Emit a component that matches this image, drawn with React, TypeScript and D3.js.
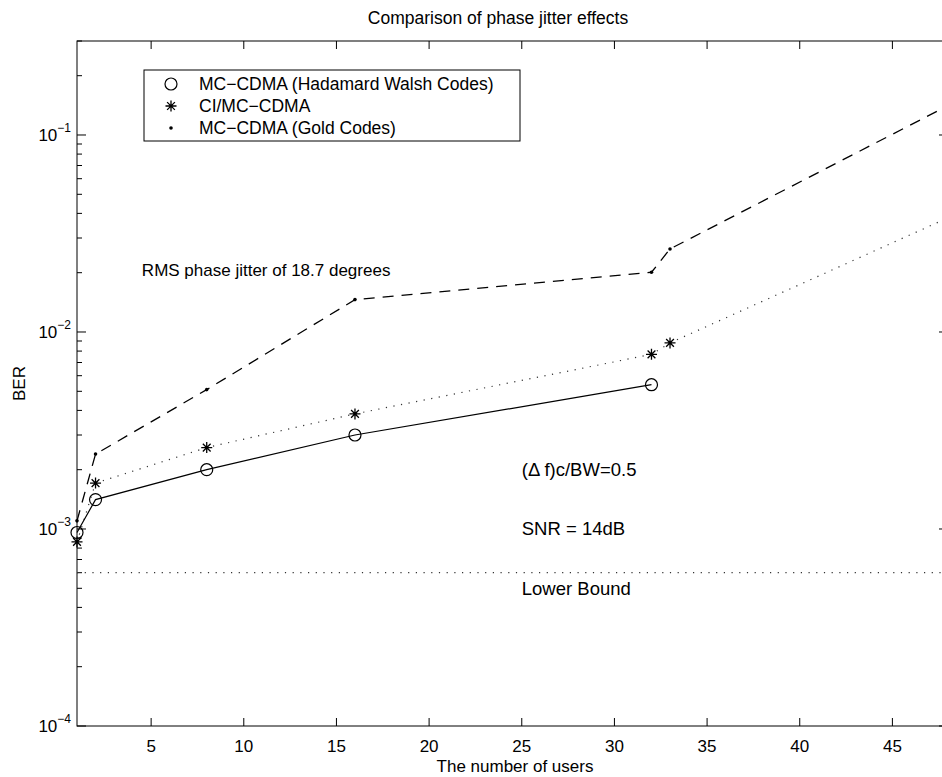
import React from 'react';
import * as d3 from 'd3';

// ---- data ----
const hadamardUsers = [1, 2, 8, 16, 32];
const hadamardBER = [0.00096, 0.00141, 0.002, 0.003, 0.0054];
const ciUsers = [1, 2, 8, 16, 32, 33, 48];
const ciBER = [0.00086, 0.00171, 0.00259, 0.00384, 0.0077, 0.0088, 0.038];
const goldUsers = [1, 2, 8, 16, 32, 33, 48];
const goldBER = [0.0011, 0.0024, 0.0051, 0.0146, 0.0201, 0.0264, 0.141];
const lowerBoundUsers = [1, 48];
const lowerBoundBER = [0.0006, 0.0006];
const xTickValues = [5, 10, 15, 20, 25, 30, 35, 40, 45];
const yMajorTicks = [1e-4, 1e-3, 1e-2, 1e-1];
const yTickExponents = ['−4', '−3', '−2', '−1'];
const legendLabels = ['MC−CDMA (Hadamard Walsh Codes)', 'CI/MC−CDMA', 'MC−CDMA (Gold Codes)'];
const annotationTexts = ['RMS phase jitter of 18.7 degrees', '(Δ f)c/BW=0.5', 'SNR = 14dB', 'Lower Bound'];
const annotationX = [4.5, 25, 25, 25];
const annotationY = [0.0205, 0.002, 0.001, 0.0005];

const W = 942;
const H = 777;
const L = 77, R = 948, T = 41, B = 726;
const FONT = '"Liberation Sans", Arial, Helvetica, sans-serif';

export default function App() {
  const x = d3.scaleLinear().domain([1, 48]).range([L, R]);
  const y = d3.scaleLog().domain([1e-4, 0.3]).range([B, T]);

  const line = d3.line<[number, number]>().x(d => x(d[0])).y(d => y(d[1]));
  const zip = (a: number[], b: number[]) => a.map((v, i) => [v, b[i]] as [number, number]);

  const minorTicks: number[] = [];
  for (let e = -4; e <= -1; e++) {
    for (let m = 2; m <= 9; m++) {
      const v = m * Math.pow(10, e);
      if (v <= 0.3 + 1e-12) minorTicks.push(v);
    }
  }

  const asterisk = (cx: number, cy: number, r: number) => {
    const p = d3.path();
    for (let k = 0; k < 4; k++) {
      const a = (k * Math.PI) / 4;
      p.moveTo(cx - r * Math.cos(a), cy - r * Math.sin(a));
      p.lineTo(cx + r * Math.cos(a), cy + r * Math.sin(a));
    }
    return p.toString();
  };

  const legX = 144, legY = 70, legW = 376, legH = 71;
  const legRows = [84, 106, 128];
  const annSizes = [17, 18.5, 18.5, 18.5];

  return (
    <svg width={W} height={H} style={{ position: 'absolute', left: 0, top: 0, background: '#fff' }} fontFamily={FONT}>
      <rect x={0} y={0} width={W} height={H} fill="#fff" />
      {/* title */}
      <text x={498} y={24} textAnchor="middle" fontSize={17.5}>Comparison of phase jitter effects</text>

      {/* axes box */}
      <rect x={L} y={T} width={R - L} height={B - T} fill="none" stroke="#000" strokeWidth={1} />

      {/* x ticks */}
      {xTickValues.map(v => (
        <g key={'xt' + v}>
          <line x1={x(v)} x2={x(v)} y1={B} y2={B - 8} stroke="#000" />
          <line x1={x(v)} x2={x(v)} y1={T} y2={T + 8} stroke="#000" />
          <text x={x(v)} y={B + 26} textAnchor="middle" fontSize={17}>{v}</text>
        </g>
      ))}

      {/* y ticks */}
      {yMajorTicks.map((v, i) => (
        <g key={'yt' + v}>
          <line x1={L} x2={L + 9} y1={y(v)} y2={y(v)} stroke="#000" />
          <line x1={R} x2={R - 9} y1={y(v)} y2={y(v)} stroke="#000" />
          <text x={71} y={y(v) + 6} textAnchor="end" fontSize={17}>
            10<tspan dy={-9} fontSize={12}>{yTickExponents[i]}</tspan>
          </text>
        </g>
      ))}
      {minorTicks.map(v => (
        <g key={'ym' + v}>
          <line x1={L} x2={L + 5} y1={y(v)} y2={y(v)} stroke="#000" />
          <line x1={R} x2={R - 5} y1={y(v)} y2={y(v)} stroke="#000" />
        </g>
      ))}

      {/* axis labels */}
      <text x={515} y={772} textAnchor="middle" fontSize={17}>The number of users</text>
      <text transform={`translate(25, ${(T + B) / 2}) rotate(-90)`} textAnchor="middle" fontSize={17}>BER</text>

      {/* lower bound */}
      <path d={line(zip(lowerBoundUsers, lowerBoundBER)) || ''} fill="none" stroke="#333" strokeWidth={1.2} strokeDasharray="1.2 6.5" />

      {/* gold: dashed */}
      <path d={line(zip(goldUsers, goldBER)) || ''} fill="none" stroke="#000" strokeWidth={1.3} strokeDasharray="11 8" />
      {goldUsers.map((u, i) => (
        <circle key={'g' + i} cx={x(u)} cy={y(goldBER[i])} r={1.8} fill="#000" />
      ))}

      {/* CI: dotted */}
      <path d={line(zip(ciUsers, ciBER)) || ''} fill="none" stroke="#333" strokeWidth={1.2} strokeDasharray="1.2 6.5" />
      {ciUsers.map((u, i) => (
        <path key={'c' + i} d={asterisk(x(u), y(ciBER[i]), 5.5)} stroke="#000" strokeWidth={1.3} fill="none" />
      ))}

      {/* hadamard: solid */}
      <path d={line(zip(hadamardUsers, hadamardBER)) || ''} fill="none" stroke="#000" strokeWidth={1.2} />
      {hadamardUsers.map((u, i) => (
        <circle key={'h' + i} cx={x(u)} cy={y(hadamardBER[i])} r={6} fill="none" stroke="#000" strokeWidth={1.2} />
      ))}

      {/* annotations */}
      {annotationTexts.map((t, i) => (
        <text key={'a' + i} x={x(annotationX[i])} y={y(annotationY[i])} dominantBaseline="central" fontSize={annSizes[i]}>{t}</text>
      ))}

      {/* legend */}
      <rect x={legX} y={legY} width={legW} height={legH} fill="#fff" stroke="#000" strokeWidth={1} />
      <circle cx={171} cy={legRows[0]} r={6} fill="none" stroke="#000" strokeWidth={1.2} />
      <path d={asterisk(171, legRows[1], 5.5)} stroke="#000" strokeWidth={1.3} fill="none" />
      <circle cx={171} cy={legRows[2]} r={1.8} fill="#000" />
      {legendLabels.map((t, i) => (
        <text key={'l' + i} x={199} y={legRows[i]} dominantBaseline="central" fontSize={17.5}>{t}</text>
      ))}
    </svg>
  );
}
